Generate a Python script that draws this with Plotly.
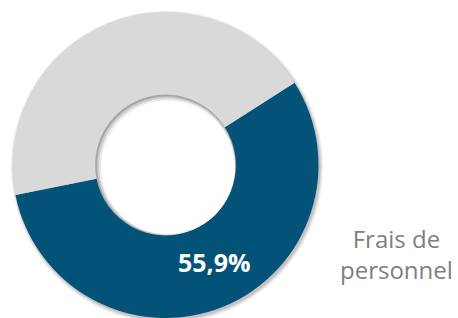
import plotly.graph_objects as go

categories = ["Frais de personnel", "Autres"]
values = [55.9, 44.1]
value_label = "55,9%"
side_label_lines = ["Frais de", "personnel"]
colors = ["#035378", "#d9d9d9"]

W, H = 458, 318
# pie geometry (pixels)
PX0, PX1 = 12, 319
PY_TOP, PY_BOT = 12, 318
HOLE = 0.46

fig = go.Figure()
fig.add_trace(go.Pie(
    labels=categories,
    values=values,
    textinfo="none",
    marker=dict(colors=colors, line=dict(width=0)),
    hole=HOLE,
    sort=False,
    direction="clockwise",
    rotation=57.5,
    domain=dict(x=[PX0 / W, PX1 / W], y=[(H - PY_BOT) / H, (H - PY_TOP) / H]),
    showlegend=False,
    hoverinfo="label+percent",
))

# decorative shadows derived from the pie geometry
cx = (PX0 + PX1) / 2
cy = (PY_TOP + PY_BOT) / 2
r = min(PX1 - PX0, PY_BOT - PY_TOP) / 2
rh = r * HOLE


def circ(x, y, rad, fill, layer):
    return dict(type="circle", xref="paper", yref="paper",
                x0=(x - rad) / W, x1=(x + rad) / W,
                y0=1 - (y + rad) / H, y1=1 - (y - rad) / H,
                fillcolor=fill, line=dict(width=0), layer=layer)


shapes = []
for k, a in [(3.5, 0.04), (2.5, 0.05), (1.5, 0.07), (0.5, 0.09)]:
    shapes.append(circ(cx + 1.5, cy + 2, r + k, f"rgba(0,0,0,{a})", "below"))
shapes.append(circ(cx, cy, rh, "rgba(0,0,0,0.14)", "above"))
shapes.append(circ(cx + 0.8, cy + 0.8, rh - 1.2, "rgba(255,255,255,0.45)", "above"))
shapes.append(circ(cx + 1.6, cy + 1.6, rh - 2.4, "rgba(255,255,255,0.6)", "above"))
shapes.append(circ(cx + 2.4, cy + 2.4, rh - 3.5, "white", "above"))

fig.update_layout(shapes=shapes)

# value label inside the dark slice
fig.add_annotation(
    x=214.5 / W, y=(H - 262) / H, xref="paper", yref="paper",
    text=f"<b>{value_label}</b>", showarrow=False,
    font=dict(family="Open Sans", size=25, color="white"),
    xanchor="center", yanchor="middle",
)

# category label at the right
fig.add_annotation(
    x=396 / W, y=(H - 254) / H, xref="paper", yref="paper",
    text="<br>".join(side_label_lines), showarrow=False,
    font=dict(family="Open Sans", size=24, color="#7f7f7f"),
    align="center", xanchor="center", yanchor="middle",
)

fig.update_layout(
    width=W, height=H,
    margin=dict(l=0, r=0, t=0, b=0),
    paper_bgcolor="white", plot_bgcolor="white",
)

fig.write_html("out.html", config={"displayModeBar": False},
               post_script="document.body.style.margin='0';")
